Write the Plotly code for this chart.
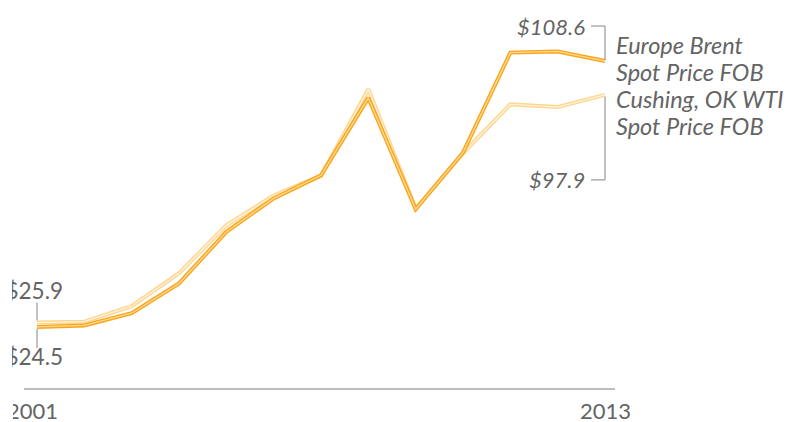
import plotly.graph_objects as go

years = list(range(2001, 2014))
brent = [24.5, 24.99, 28.85, 38.26, 54.57, 65.16, 72.44, 96.94, 61.74, 79.61, 111.26, 111.63, 108.6]
wti = [25.9, 26.18, 31.08, 41.51, 56.64, 66.05, 72.34, 99.67, 61.95, 79.48, 94.88, 94.05, 97.9]
brent_name_lines = ["Europe Brent", "Spot Price FOB"]
wti_name_lines = ["Cushing, OK WTI", "Spot Price FOB"]
year_labels = ["2001", "2013"]

GRAY = "#646464"
FONT = "Lato"

fig = go.Figure()

# WTI (lighter) below, Brent on top
fig.add_trace(go.Scatter(x=years, y=wti, mode="lines",
                         line=dict(color="#FFD58F", width=4), hoverinfo="skip"))
fig.add_trace(go.Scatter(x=years, y=wti, mode="lines",
                         line=dict(color="#FFF4E0", width=1.3), hoverinfo="skip"))
fig.add_trace(go.Scatter(x=years, y=brent, mode="lines",
                         line=dict(color="#F9A51A", width=4), hoverinfo="skip"))
fig.add_trace(go.Scatter(x=years, y=brent, mode="lines",
                         line=dict(color="#FFDA96", width=1.3), hoverinfo="skip"))

x0, x1 = years[0], years[-1]
b0, b1 = brent[0], brent[-1]
w0, w1 = wti[0], wti[-1]

def vseg(xv, yv, p0, p1):
    return dict(type="line", xref="x", yref="y", xsizemode="pixel", ysizemode="pixel",
                xanchor=xv, yanchor=yv, x0=0, x1=0, y0=p0, y1=p1,
                line=dict(color="#999999", width=1.2))

def hseg(xv, yv, p0, p1, py):
    return dict(type="line", xref="x", yref="y", xsizemode="pixel", ysizemode="pixel",
                xanchor=xv, yanchor=yv, x0=p0, x1=p1, y0=py, y1=py,
                line=dict(color="#999999", width=1.2))

shapes = [
    # right bracket
    vseg(x1, b1, 35, 1),
    hseg(x1, b1, -14, 0, 35),
    vseg(x1, w1, -2, -85),
    hseg(x1, w1, -14, 0, -85),
    # left bracket
    vseg(x0, w0, 20, 2),
    vseg(x0, b0, -2, -21),
]

fnt = dict(family=FONT, size=22.5, color=GRAY)
fnt_year = dict(family=FONT, size=22, color=GRAY)
fnt_it = dict(family=FONT, size=22, color=GRAY, style="italic")
fnt_name = dict(family=FONT, size=23.5, color=GRAY, style="italic")

annotations = [
    dict(x=x1, y=b1, text="$%.1f" % b1, showarrow=False, xanchor="right", yanchor="middle",
         xshift=-18, yshift=35, font=fnt_it),
    dict(x=x1, y=w1, text="$%.1f" % w1, showarrow=False, xanchor="right", yanchor="middle",
         xshift=-18, yshift=-85, font=fnt_it),
    dict(x=x0, y=w0, text="$%.1f" % w0, showarrow=False, xanchor="right", yanchor="middle",
         align="right", width=51, xshift=28, yshift=32, font=fnt),
    dict(x=x0, y=b0, text="$%.1f" % b0, showarrow=False, xanchor="right", yanchor="middle",
         align="right", width=51, xshift=28, yshift=-30, font=fnt),
    dict(x=x0, y=0, yref="paper", text=year_labels[0], showarrow=False, xanchor="right",
         yanchor="middle", align="right", width=45, xshift=23, yshift=-22, font=fnt_year),
    dict(x=x1, y=0, yref="paper", text=year_labels[1], showarrow=False, xanchor="center",
         yanchor="middle", yshift=-22, font=fnt_year),
]

for i, line in enumerate(brent_name_lines):
    annotations.append(dict(x=x1, y=b1, text=line, showarrow=False, xanchor="left",
                            yanchor="middle", xshift=9, yshift=16 - 26.7 * i, font=fnt_name))
for i, line in enumerate(wti_name_lines):
    annotations.append(dict(x=x1, y=w1, text=line, showarrow=False, xanchor="left",
                            yanchor="middle", xshift=9, yshift=-4 - 26.7 * i, font=fnt_name))

fig.update_layout(
    width=787, height=422,
    margin=dict(l=24, r=172, t=0, b=34),
    paper_bgcolor="white", plot_bgcolor="white",
    showlegend=False,
    shapes=shapes,
    annotations=annotations,
    xaxis=dict(range=[2000.725, 2013.211], showgrid=False, zeroline=False,
               showticklabels=False, ticks="", showline=True, linecolor="#BDBDBD",
               linewidth=2, fixedrange=True),
    yaxis=dict(range=[5.2, 127.9], showgrid=False, zeroline=False, showticklabels=False,
               ticks="", showline=False, fixedrange=True),
)

fig.write_html("out.html", post_script="document.body.style.margin='0';",
               config={"displayModeBar": False})
